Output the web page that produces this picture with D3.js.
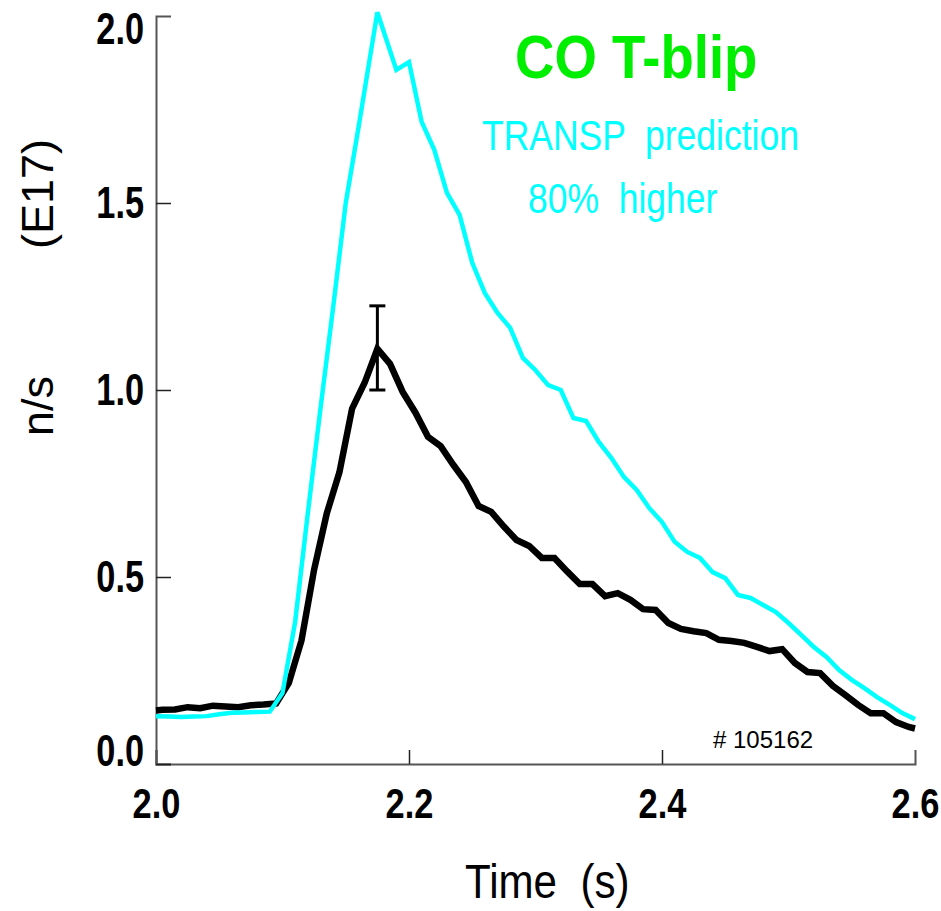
<!DOCTYPE html>
<html>
<head>
<meta charset="utf-8">
<script src="https://cdn.jsdelivr.net/npm/d3@7"></script>
<style>
  body { margin: 0; background: #fff; }
  svg { display: block; font-family: 'Liberation Sans', Arial, sans-serif; }
  svg text { white-space: pre; }
</style>
</head>
<body>
<svg id="chart" width="941" height="911"></svg>
<script>
// measured neutron rate (black), E17 n/s
const measuredTime = [2.000, 2.005, 2.015, 2.025, 2.035, 2.045, 2.055, 2.065, 2.075, 2.085,
  2.095, 2.105, 2.115, 2.125, 2.135, 2.145, 2.155, 2.165, 2.175, 2.185,
  2.195, 2.205, 2.215, 2.225, 2.235, 2.245, 2.255, 2.265, 2.275, 2.285,
  2.295, 2.305, 2.315, 2.325, 2.335, 2.345, 2.355, 2.365, 2.375, 2.385,
  2.395, 2.405, 2.415, 2.425, 2.435, 2.445, 2.455, 2.465, 2.475, 2.485,
  2.495, 2.505, 2.515, 2.525, 2.535, 2.545, 2.555, 2.565, 2.575, 2.585,
  2.595, 2.600];
const measuredRate = [0.143, 0.145, 0.146, 0.152, 0.149, 0.156, 0.154, 0.152, 0.157, 0.159,
  0.162, 0.217, 0.33, 0.52, 0.67, 0.78, 0.95, 1.02, 1.11, 1.07,
  0.995, 0.94, 0.875, 0.85, 0.80, 0.754, 0.690, 0.674, 0.635, 0.599,
  0.583, 0.551, 0.551, 0.515, 0.481, 0.481, 0.449, 0.457, 0.439, 0.414,
  0.412, 0.377, 0.361, 0.355, 0.350, 0.332, 0.329, 0.324, 0.313, 0.302,
  0.307, 0.270, 0.246, 0.243, 0.209, 0.184, 0.158, 0.136, 0.136, 0.112,
  0.099, 0.095];

// TRANSP prediction (cyan)
const transpTime = [2.00, 2.01, 2.02, 2.03, 2.04, 2.05, 2.06, 2.07, 2.08, 2.09,
  2.10, 2.11, 2.12, 2.13, 2.14, 2.15, 2.16, 2.175, 2.19, 2.20,
  2.21, 2.22, 2.23, 2.24, 2.25, 2.26, 2.27, 2.28, 2.29, 2.30,
  2.31, 2.32, 2.33, 2.34, 2.35, 2.36, 2.37, 2.38, 2.39, 2.40,
  2.41, 2.42, 2.43, 2.44, 2.45, 2.46, 2.47, 2.48, 2.49, 2.50,
  2.51, 2.52, 2.53, 2.54, 2.55, 2.56, 2.57, 2.58, 2.59, 2.60];
const transpRate = [0.128, 0.127, 0.126, 0.127, 0.128, 0.133, 0.137, 0.138, 0.139, 0.140,
  0.19, 0.38, 0.67, 0.95, 1.22, 1.50, 1.70, 2.01, 1.856, 1.877,
  1.717, 1.642, 1.527, 1.468, 1.340, 1.259, 1.206, 1.166, 1.086, 1.053,
  1.013, 1.000, 0.925, 0.917, 0.861, 0.818, 0.767, 0.733, 0.684, 0.647,
  0.594, 0.567, 0.551, 0.513, 0.497, 0.452, 0.444, 0.425, 0.406, 0.377,
  0.345, 0.313, 0.286, 0.251, 0.225, 0.203, 0.179, 0.158, 0.136, 0.120];

const errorTime = [2.175];
const errorLow = [1.0];
const errorHigh = [1.225];

const xTicks = [2.0, 2.2, 2.4, 2.6];
const yTicks = [0.0, 0.5, 1.0, 1.5, 2.0];

const titleText = 'CO T-blip';
const noteLines = ['TRANSP  prediction', '80%  higher'];
const shotText = '# 105162';

const svg = d3.select('#chart');
const margin = { top: 16, right: 26, bottom: 147, left: 156 };
const width = 941 - margin.left - margin.right;
const height = 911 - margin.top - margin.bottom;

const x = d3.scaleLinear().domain([2.0, 2.6]).range([margin.left, margin.left + width]);
const y = d3.scaleLinear().domain([0, 2.0]).range([margin.top + height, margin.top]);

svg.append('rect').attr('width', 941).attr('height', 911).attr('fill', '#fff');

// axes, ticks pointing inward
const xAxis = d3.axisBottom(x).tickValues(xTicks).tickSize(-14).tickFormat(d3.format('.1f'));
const yAxis = d3.axisLeft(y).tickValues(yTicks).tickSize(-15).tickFormat(d3.format('.1f'));

const gx = svg.append('g')
  .attr('transform', 'translate(0,' + (margin.top + height) + ')')
  .call(xAxis);
const gy = svg.append('g')
  .attr('transform', 'translate(' + margin.left + ',0)')
  .call(yAxis);

[gx, gy].forEach((g) => {
  g.select('.domain').attr('stroke', '#555').attr('stroke-width', 2);
  g.selectAll('.tick line').attr('stroke', '#222').attr('stroke-width', 1.5);
});

const xSquash = 0.8;
gx.selectAll('.tick text')
  .attr('y', 54)
  .attr('dy', 0)
  .attr('transform', 'scale(' + xSquash + ',1)')
  .style('font-size', '43px')
  .style('font-weight', 'bold')
  .attr('fill', '#000');

// end labels are pulled inside the frame, as in the original plot
const yLabelDy = (d) => (d === 2.0 ? 27 : d === 0 ? 1 : 14);
const ySquash = 0.78;
gy.selectAll('.tick text')
  .attr('x', -12 / ySquash)
  .attr('dy', 0)
  .attr('y', yLabelDy)
  .attr('transform', 'scale(' + ySquash + ',1)')
  .style('font-size', '44px')
  .style('font-weight', 'bold')
  .attr('fill', '#000');
gy.selectAll('.tick').filter((d) => d === 2.0).select('line').remove();
gx.selectAll('.tick').filter((d) => d === 2.6).select('line').remove();

// lines
const line = d3.line()
  .x((d) => x(d[0]))
  .y((d) => y(d[1]))
  .curve(d3.curveLinear);

const measured = measuredTime.map((t, i) => [t, measuredRate[i]]);
const transp = transpTime.map((t, i) => [t, transpRate[i]]);

svg.append('path')
  .datum(measured)
  .attr('d', line)
  .attr('fill', 'none')
  .attr('stroke', '#000')
  .attr('stroke-width', 6.5);

svg.append('path')
  .datum(transp)
  .attr('d', line)
  .attr('fill', 'none')
  .attr('stroke', '#00ffff')
  .attr('stroke-width', 4.5);

// error bar on the measured peak
const err = svg.append('g').attr('stroke', '#000').attr('stroke-width', 3);
errorTime.forEach((t, i) => {
  const cx = x(t);
  err.append('line')
    .attr('x1', cx).attr('x2', cx)
    .attr('y1', y(errorLow[i])).attr('y2', y(errorHigh[i]));
  [errorLow[i], errorHigh[i]].forEach((v) => {
    err.append('line')
      .attr('x1', cx - 8).attr('x2', cx + 8)
      .attr('y1', y(v)).attr('y2', y(v));
  });
});

// labels
svg.append('text')
  .attr('transform', 'translate(465,898) scale(0.86,1)')
  .style('font-size', '49px')
  .attr('fill', '#000')
  .text('Time  (s)');

svg.append('text')
  .attr('transform', 'translate(53,194) rotate(-90)')
  .attr('text-anchor', 'middle')
  .style('font-size', '45px')
  .attr('fill', '#000')
  .text('(E17)');

svg.append('text')
  .attr('transform', 'translate(53,406) rotate(-90)')
  .attr('text-anchor', 'middle')
  .style('font-size', '45px')
  .attr('fill', '#000')
  .text('n/s');

svg.append('text')
  .attr('transform', 'translate(515,78) scale(0.88,1)')
  .style('font-size', '62px')
  .style('font-weight', 'bold')
  .attr('fill', '#00ee00')
  .text(titleText);

svg.append('text')
  .attr('transform', 'translate(482,150) scale(0.845,1)')
  .style('font-size', '42px')
  .attr('fill', '#00ffff')
  .text(noteLines[0]);

svg.append('text')
  .attr('transform', 'translate(528,213) scale(0.845,1)')
  .style('font-size', '42px')
  .attr('fill', '#00ffff')
  .text(noteLines[1]);

svg.append('text')
  .attr('transform', 'translate(713,748)')
  .style('font-size', '24px')
  .attr('fill', '#000')
  .text(shotText);
</script>
</body>
</html>
